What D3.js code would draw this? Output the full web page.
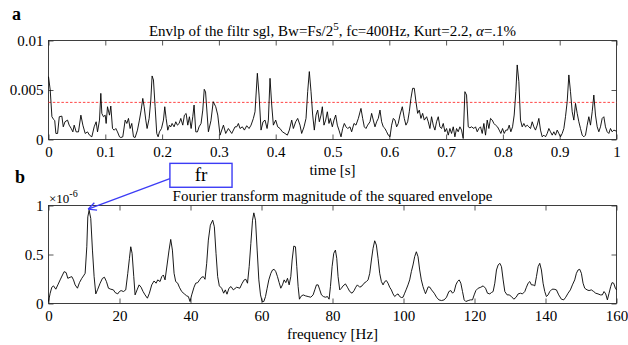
<!DOCTYPE html>
<html><head><meta charset="utf-8">
<script src="https://cdn.jsdelivr.net/npm/d3@7"></script>
<style>
body{margin:0;background:#fff}
svg{display:block}
text{font-family:"Liberation Serif","Times New Roman",serif;fill:#000}
</style></head><body>
<svg id="c" width="628" height="345"></svg>
<script>
// ---------- DATA ----------
const envTime = [0.000,0.003,0.006,0.009,0.011,0.013,0.016,0.019,0.0235,0.026,0.029,0.0335,0.0364,0.040,0.0429,0.0452,0.0487,0.0528,0.057,0.0605,0.0646,0.0687,0.0722,0.0763,0.0804,0.0839,0.0863,0.0898,0.0921,0.0939,0.0968,0.0998,0.1015,0.1039,0.1074,0.1097,0.1127,0.1156,0.1185,0.1215,0.125,0.1273,0.1308,0.135,0.1379,0.1408,0.1437,0.1466,0.1496,0.1525,0.1566,0.1601,0.1631,0.166,0.1684,0.1713,0.1736,0.1772,0.1801,0.1824,0.1848,0.1877,0.1906,0.193,0.1953,0.1989,0.2024,0.2047,0.2071,0.21,0.2129,0.2153,0.2176,0.2211,0.2241,0.227,0.23,0.2329,0.2364,0.2393,0.2423,0.2452,0.2481,0.2511,0.254,0.2563,0.2593,0.2622,0.2651,0.2686,0.2716,0.2742,0.2765,0.2815,0.2860,0.2900,0.2944,0.2980,0.3020,0.3080,0.3120,0.3167,0.3226,0.3284,
0.3314,0.3343,0.3372,0.3413,0.3449,0.3490,0.3531,0.3566,0.3607,0.3636,0.3677,0.3707,0.3742,0.3777,0.3812,0.3848,0.3871,0.3900,0.3930,0.3959,0.4000,0.4035,0.4076,0.4117,0.4164,0.4205,0.4240,0.4282,0.4311,0.4352,0.4387,0.4428,0.4457,0.4499,0.4534,0.4563,0.4592,0.4622,0.4651,0.4680,0.4710,0.4739,0.4768,0.4798,0.4821,0.4850,0.4880,0.4909,0.4938,0.4962,0.4997,0.5026,0.5056,0.5085,0.5114,0.5150,0.5179,0.5208,0.5238,0.5267,0.5308,0.5337,0.5378,0.5413,0.5455,0.5501,0.5531,0.5560,0.5589,0.5619,0.5660,0.5689,0.5718,0.5748,0.5777,0.5806,0.5836,0.5865,0.5894,0.5924,0.5953,0.5982,0.6012,0.6041,0.6070,0.6100,0.6129,0.6158,0.6188,0.6229,0.6264,0.6293,0.6323,0.6352,0.6381,0.6411,0.6440,0.6469,0.6499,0.6528,0.6557,0.6587,0.6616,0.6657,0.6686,
0.6715,0.6744,0.6774,0.6803,0.6832,0.6862,0.6891,0.6920,0.6950,0.6979,0.7008,0.7038,0.7067,0.7096,0.7126,0.7155,0.7184,0.7213,0.7243,0.7272,0.7301,0.7331,0.7360,0.7390,0.7419,0.7448,0.7489,0.7518,0.7548,0.7577,0.7606,0.7636,0.7665,0.7694,0.7724,0.7753,0.7782,0.7812,0.7841,0.7870,0.7905,0.7935,0.7964,0.7994,0.8023,0.8052,0.8082,0.8111,0.8140,0.8170,0.8199,0.8228,0.8252,0.8281,0.8310,0.8340,0.8369,0.8398,0.8428,0.8457,0.8486,0.8516,0.8545,0.8574,0.8604,0.8633,0.8662,0.8692,0.8721,0.8750,0.8780,0.8809,0.8838,0.8868,0.8897,0.8926,0.8956,0.8985,0.9014,0.9044,0.9073,0.9102,0.9132,0.9161,0.9190,0.9220,0.9249,0.9278,0.9308,0.9337,0.9366,0.9396,0.9425,0.9454,0.9484,0.9513,0.9542,0.9572,0.9601,0.9630,0.9660,0.9689,0.9718,0.9748,0.9777,0.9806,0.9836,0.9865,0.9894,0.9924,0.9953,1.0000];
const envValue = [0.00635,0.00500,0.00230,0.00203,0.00190,0.00061,0.00061,0.00230,0.00236,0.00128,0.00179,0.00196,0.00145,0.00111,0.00077,0.00145,0.00077,0.00077,0.00246,0.00145,0.00061,0.00077,0.00044,0.00027,0.00128,0.00179,0.00077,0.00196,0.00466,0.00263,0.00230,0.00246,0.00162,0.00331,0.00246,0.00338,0.00111,0.00094,0.00111,0.00077,0.00027,0.00020,0.00027,0.00196,0.00162,0.00213,0.00111,0.00162,0.00027,0.00020,0.00094,0.00196,0.00297,0.00415,0.00331,0.00196,0.00111,0.00213,0.00399,0.00642,0.00601,0.00331,0.00061,0.00027,0.00077,0.00111,0.00196,0.00331,0.00213,0.00094,0.00145,0.00128,0.00162,0.00128,0.00179,0.00145,0.00162,0.00213,0.00145,0.00246,0.00263,0.00145,0.00230,0.00111,0.00230,0.00348,0.00077,0.00077,0.00128,0.00162,0.00297,0.00507,0.00480,0.00078,0.00190,0.00382,0.00331,0.00247,0.00044,0.00145,0.00061,0.00111,0.00061,0.00128,
0.00128,0.00162,0.00111,0.00128,0.00095,0.00139,0.00111,0.00145,0.00213,0.00280,0.00669,0.00449,0.00095,0.00179,0.00196,0.00111,0.00196,0.00618,0.00348,0.00145,0.00196,0.00128,0.00111,0.00078,0.00061,0.00044,0.00095,0.00196,0.00111,0.00179,0.00213,0.00145,0.00061,0.00128,0.00213,0.00483,0.00686,0.00483,0.00247,0.00095,0.00247,0.00297,0.00179,0.00247,0.00331,0.00145,0.00196,0.00280,0.00162,0.00213,0.00128,0.00196,0.00247,0.00145,0.00095,0.00027,0.00111,0.00162,0.00128,0.00111,0.00128,0.00078,0.00162,0.00145,0.00213,0.00314,0.00213,0.00128,0.00111,0.00145,0.00179,0.00264,0.00196,0.00128,0.00179,0.00213,0.00297,0.00179,0.00128,0.00111,0.00078,0.00044,0.00027,0.00145,0.00213,0.00196,0.00128,0.00162,0.00247,0.00331,0.00213,0.00145,0.00179,0.00280,0.00416,0.00517,0.00517,0.00382,0.00264,0.00297,0.00213,0.00264,0.00196,0.00230,0.00179,
0.00111,0.00230,0.00145,0.00095,0.00179,0.00230,0.00128,0.00111,0.00162,0.00078,0.00111,0.00044,0.00111,0.00061,0.00128,0.00027,0.00111,0.00078,0.00128,0.00095,0.00010,0.00483,0.00449,0.00128,0.00118,0.00128,0.00111,0.00128,0.00078,0.00111,0.00128,0.00061,0.00162,0.00044,0.00196,0.00111,0.00213,0.00196,0.00162,0.00145,0.00128,0.00095,0.00061,0.00111,0.00061,0.00095,0.00095,0.00145,0.00078,0.00128,0.00247,0.00483,0.00753,0.00584,0.00196,0.00128,0.00162,0.00128,0.00145,0.00128,0.00111,0.00179,0.00128,0.00095,0.00145,0.00213,0.00095,0.00027,0.00044,0.00027,0.00061,0.00111,0.00078,0.00044,0.00078,0.00044,0.00095,0.00061,0.00027,0.00061,0.00111,0.00230,0.00382,0.00652,0.00483,0.00280,0.00196,0.00365,0.00264,0.00179,0.00111,0.00044,0.00027,0.00044,0.00145,0.00230,0.00145,0.00280,0.00449,0.00247,0.00128,0.00078,0.00128,0.00213,0.00230,0.00128,0.00078,0.00061,0.00111,0.00078,0.00095,0.00084];
const envThreshold = 0.00375;

const fftFreq = [0.00,0.47,0.94,1.41,2.06,2.63,3.28,3.94,4.41,4.97,5.44,6.10,6.57,7.04,7.50,8.16,8.72,9.38,9.85,10.32,10.79,11.07,11.44,11.91,12.38,12.85,13.32,13.88,14.54,15.20,15.76,16.32,16.89,17.54,18.29,18.76,19.51,19.98,20.45,21.11,21.76,22.33,22.80,23.17,23.55,24.02,24.39,24.95,25.52,26.08,26.64,27.20,27.86,28.42,29.08,29.74,30.30,30.77,31.43,31.89,32.36,32.83,33.40,33.96,34.43,34.90,35.37,35.83,36.40,36.87,37.52,38.27,38.93,39.40,39.87,40.34,40.99,41.46,42.03,42.68,43.15,43.62,44.09,44.56,45.03,45.59,46.25,46.72,47.19,47.65,48.12,48.78,49.34,49.81,50.28,50.84,51.41,52.06,53.00,53.90,54.56,55.12,55.59,56.06,56.53,57.00,57.47,57.84,58.31,58.78,59.25,59.72,60.19,60.66,61.13,61.59,62.06,62.63,63.10,63.56,64.03,64.50,64.97,65.44,65.91,66.38,66.85,67.32,67.79,68.25,68.63,69.10,69.57,69.94,70.32,70.69,71.07,71.73,72.38,73.13,73.88,74.54,75.01,75.48,75.95,76.42,76.88,77.45,78.01,78.57,79.04,79.42,79.89,80.35,80.82,81.20,81.57,82.04,82.51,82.98,83.64,84.20,84.86,85.51,86.08,86.55,87.01,87.67,88.33,88.89,89.55,90.02,90.49,90.96,91.42,91.89,92.36,92.83,93.30,93.77,94.24,94.71,95.18,95.64,96.11,96.58,97.05,97.52,97.99,98.46,98.93,99.40,99.87,100.33,100.80,101.27,101.74,102.21,102.68,103.15,103.62,104.09,104.56,105.02,105.49,105.96,106.20,106.96,107.43,107.90,108.65,109.31,109.96,110.71,111.46,112.12,112.78,113.34,113.81,114.28,114.75,115.22,115.69,116.15,116.62,117.09,117.56,118.22,118.87,119.44,119.91,120.38,121.03,121.78,122.44,123.10,123.66,124.31,124.78,125.25,125.72,126.19,126.66,127.13,127.60,128.07,128.54,129.19,129.76,130.41,131.07,131.73,132.29,132.94,133.51,134.16,134.63,135.10,135.57,136.04,136.51,136.98,137.45,137.92,138.38,138.85,139.32,139.79,140.26,140.73,141.20,141.86,142.42,143.08,143.73,144.48,145.14,145.70,146.36,147.01,147.58,148.23,148.70,149.17,149.64,150.11,150.58,151.05,151.70,152.27,152.92,153.58,154.14,154.80,155.46,156.02,156.49,156.96,157.43,157.90,158.37,158.74,159.21,159.68,160.00];
// magnitude in units of 10^-6 (as shown by the axis multiplier)
const fftMag = [0.020,0.105,0.166,0.180,0.146,0.190,0.241,0.291,0.325,0.315,0.257,0.268,0.274,0.241,0.190,0.156,0.213,0.257,0.281,0.308,0.579,0.884,0.952,0.867,0.545,0.274,0.098,0.146,0.207,0.257,0.268,0.224,0.156,0.146,0.139,0.112,0.098,0.122,0.132,0.122,0.139,0.308,0.461,0.579,0.512,0.274,0.088,0.139,0.190,0.166,0.122,0.088,0.054,0.105,0.190,0.230,0.207,0.241,0.224,0.274,0.291,0.241,0.393,0.545,0.654,0.545,0.308,0.224,0.207,0.166,0.122,0.098,0.078,0.071,0.020,0.088,0.166,0.207,0.213,0.247,0.268,0.274,0.247,0.410,0.647,0.799,0.850,0.783,0.512,0.274,0.180,0.156,0.105,0.139,0.095,0.156,0.173,0.139,0.166,0.156,0.207,0.241,0.247,0.207,0.376,0.613,0.850,0.925,0.850,0.545,0.241,0.088,0.020,0.020,0.071,0.156,0.241,0.308,0.342,0.349,0.325,0.274,0.213,0.156,0.190,0.241,0.213,0.257,0.190,0.274,0.444,0.586,0.579,0.376,0.173,0.044,0.071,0.088,0.078,0.071,0.064,0.088,0.139,0.190,0.190,0.139,0.088,0.071,0.064,0.071,0.044,0.173,0.376,0.512,0.545,0.461,0.274,0.139,0.156,0.180,0.200,0.166,0.122,0.105,0.132,0.166,0.190,0.166,0.180,0.207,0.224,0.241,0.308,0.444,0.562,0.640,0.596,0.461,0.308,0.224,0.190,0.224,0.234,0.207,0.166,0.139,0.098,0.071,0.088,0.098,0.071,0.061,0.064,0.105,0.146,0.190,0.241,0.325,0.393,0.478,0.528,0.478,0.342,0.241,0.173,0.122,0.100,0.170,0.166,0.139,0.105,0.064,0.037,0.030,0.037,0.064,0.122,0.132,0.105,0.122,0.190,0.224,0.241,0.207,0.122,0.037,0.020,0.030,0.037,0.037,0.088,0.132,0.156,0.166,0.180,0.156,0.105,0.098,0.112,0.122,0.207,0.342,0.393,0.410,0.376,0.241,0.122,0.088,0.088,0.071,0.044,0.064,0.098,0.105,0.098,0.122,0.166,0.207,0.224,0.190,0.190,0.180,0.274,0.376,0.410,0.342,0.207,0.122,0.071,0.088,0.122,0.146,0.146,0.139,0.088,0.044,0.037,0.064,0.105,0.139,0.190,0.241,0.308,0.342,0.349,0.308,0.207,0.156,0.139,0.132,0.139,0.122,0.105,0.098,0.088,0.088,0.122,0.098,0.037,0.105,0.173,0.213,0.207,0.156,0.139];
const fftExponent = "-6";

const envXTicks = [0,0.1,0.2,0.3,0.4,0.5,0.6,0.7,0.8,0.9,1];
const envXTickLabels = ["0","0.1","0.2","0.3","0.4","0.5","0.6","0.7","0.8","0.9","1"];
const envYTicks = [0,0.005,0.01];
const envYTickLabels = ["0","0.005","0.01"];
const fftXTicks = [0,20,40,60,80,100,120,140,160];
const fftXTickLabels = ["0","20","40","60","80","100","120","140","160"];
const fftYTicks = [0,0.5,1];
const fftYTickLabels = ["0","0.5","1"];

const panelLabels = ["a","b"];
const envXLabel = "time [s]";
const fftXLabel = "frequency [Hz]";
const fftTitle = "Fourier transform magnitude of the squared envelope";
// peak annotation (data coordinates of the fft panel)
const annotText = "fr";
const annotBox = {f0:34.2, f1:51.7, m0:1.186, m1:1.43, arrowFromM:1.275};
const annotPeakIndex = fftMag.indexOf(d3.max(fftMag));

// ---------- LAYOUT ----------
const svg = d3.select("#c");
const L = 48.5, R = 616.5;
const axisColor = "#2b2b2b";
const FS = 15;

function panel(top, bottom, xDomain, yDomain, xTicks, xLabels, yTicks, yLabels) {
  const x = d3.scaleLinear().domain(xDomain).range([L, R]);
  const y = d3.scaleLinear().domain(yDomain).range([bottom, top]);
  const g = svg.append("g");
  const styleAxis = sel => {
    sel.select(".domain").remove();
    sel.selectAll(".tick line").attr("stroke", axisColor).attr("stroke-width", 0.8);
    sel.selectAll(".tick text").attr("font-family", '"Liberation Serif",serif').attr("font-size", FS).attr("fill", "#000");
  };
  g.append("g").attr("transform", `translate(0,${bottom})`)
    .call(d3.axisBottom(x).tickValues(xTicks).tickFormat((d,i)=>xLabels[i]).tickSizeInner(-5).tickSizeOuter(0).tickPadding(7)).call(styleAxis);
  g.append("g").attr("transform", `translate(0,${top})`)
    .call(d3.axisTop(x).tickValues(xTicks).tickFormat("").tickSizeInner(-5).tickSizeOuter(0)).call(styleAxis);
  g.append("g").attr("transform", `translate(${L},0)`)
    .call(d3.axisLeft(y).tickValues(yTicks).tickFormat((d,i)=>yLabels[i]).tickSizeInner(-5).tickSizeOuter(0).tickPadding(5)).call(styleAxis);
  g.append("g").attr("transform", `translate(${R},0)`)
    .call(d3.axisRight(y).tickValues(yTicks).tickFormat("").tickSizeInner(-5).tickSizeOuter(0)).call(styleAxis);
  g.append("rect").attr("x", L).attr("y", top).attr("width", R-L).attr("height", bottom-top)
    .attr("fill", "none").attr("stroke", axisColor).attr("stroke-width", 0.9);
  return {x, y, g};
}

// ---- Panel a ----
const A = panel(40.5, 139.5, [0,1], [0,0.01], envXTicks, envXTickLabels, envYTicks, envYTickLabels);
A.g.append("line").attr("x1", A.x(0)).attr("x2", A.x(1)).attr("y1", A.y(envThreshold)).attr("y2", A.y(envThreshold))
  .attr("stroke", "#ff3030").attr("stroke-width", 0.9).attr("stroke-dasharray", "2.5,1.8");
A.g.append("path").datum(envTime.map((t,i)=>[t, envValue[i]]))
  .attr("d", d3.line().x(d=>A.x(d[0])).y(d=>A.y(d[1])))
  .attr("fill", "none").attr("stroke", "#000").attr("stroke-width", 0.9).attr("stroke-linejoin", "round");

const tA = svg.append("text").attr("x", (L+R)/2).attr("y", 36).attr("text-anchor", "middle").attr("font-size", FS);
tA.append("tspan").text("Envlp of the filtr sgl, Bw=Fs/2");
tA.append("tspan").attr("dy", -6).attr("font-size", 11).text("5");
tA.append("tspan").attr("dy", 6).text(", fc=400Hz, Kurt=2.2, ");
tA.append("tspan").attr("font-style", "italic").text("\u03B1");
tA.append("tspan").text("=.1%");

svg.append("text").attr("x", (L+R)/2).attr("y", 175).attr("text-anchor", "middle").attr("font-size", FS).text(envXLabel);
svg.append("text").attr("x", 12).attr("y", 20).attr("font-size", 18).attr("font-weight", "bold").text(panelLabels[0]);

// ---- Panel b ----
const B = panel(205.5, 303.5, [0,160], [0,1], fftXTicks, fftXTickLabels, fftYTicks, fftYTickLabels);
B.g.append("path").datum(fftFreq.map((f,i)=>[f, fftMag[i]]))
  .attr("d", d3.line().x(d=>B.x(d[0])).y(d=>B.y(d[1])))
  .attr("fill", "none").attr("stroke", "#000").attr("stroke-width", 0.9).attr("stroke-linejoin", "round");

svg.append("text").attr("x", (L+R)/2).attr("y", 201).attr("text-anchor", "middle").attr("font-size", FS).text(fftTitle);
svg.append("text").attr("x", (L+R)/2).attr("y", 339).attr("text-anchor", "middle").attr("font-size", FS).text(fftXLabel);
svg.append("text").attr("x", 15).attr("y", 183).attr("font-size", 18).attr("font-weight", "bold").text(panelLabels[1]);
const mult = svg.append("text").attr("x", 49).attr("y", 203).attr("font-size", 13);
mult.append("tspan").text("\u00D710");
mult.append("tspan").attr("dy", -6).attr("font-size", 10).text(fftExponent);

// annotation
const blue = "#3c3cf5";
const bx0 = B.x(annotBox.f0), bx1 = B.x(annotBox.f1), by0 = B.y(annotBox.m1), by1 = B.y(annotBox.m0);
svg.append("rect").attr("x", bx0).attr("y", by0).attr("width", bx1-bx0).attr("height", by1-by0)
  .attr("fill", "#fff").attr("stroke", blue).attr("stroke-width", 1.4);
svg.append("text").attr("x", (bx0+bx1)/2).attr("y", by1-6).attr("text-anchor", "middle").attr("font-size", 19).text(annotText);
const ax0 = bx0, ay0 = B.y(annotBox.arrowFromM);
const ax1 = B.x(fftFreq[annotPeakIndex]) - 1, ay1 = B.y(fftMag[annotPeakIndex]) - 1;
svg.append("line").attr("x1", ax0).attr("y1", ay0).attr("x2", ax1).attr("y2", ay1).attr("stroke", blue).attr("stroke-width", 1.3);
const ang = Math.atan2(ay0-ay1, ax0-ax1), hl = 9, ha = 0.45;
[ang-ha, ang+ha].forEach(a => {
  svg.append("line").attr("x1", ax1).attr("y1", ay1).attr("x2", ax1+hl*Math.cos(a)).attr("y2", ay1+hl*Math.sin(a))
    .attr("stroke", blue).attr("stroke-width", 1.3);
});
</script></body></html>
